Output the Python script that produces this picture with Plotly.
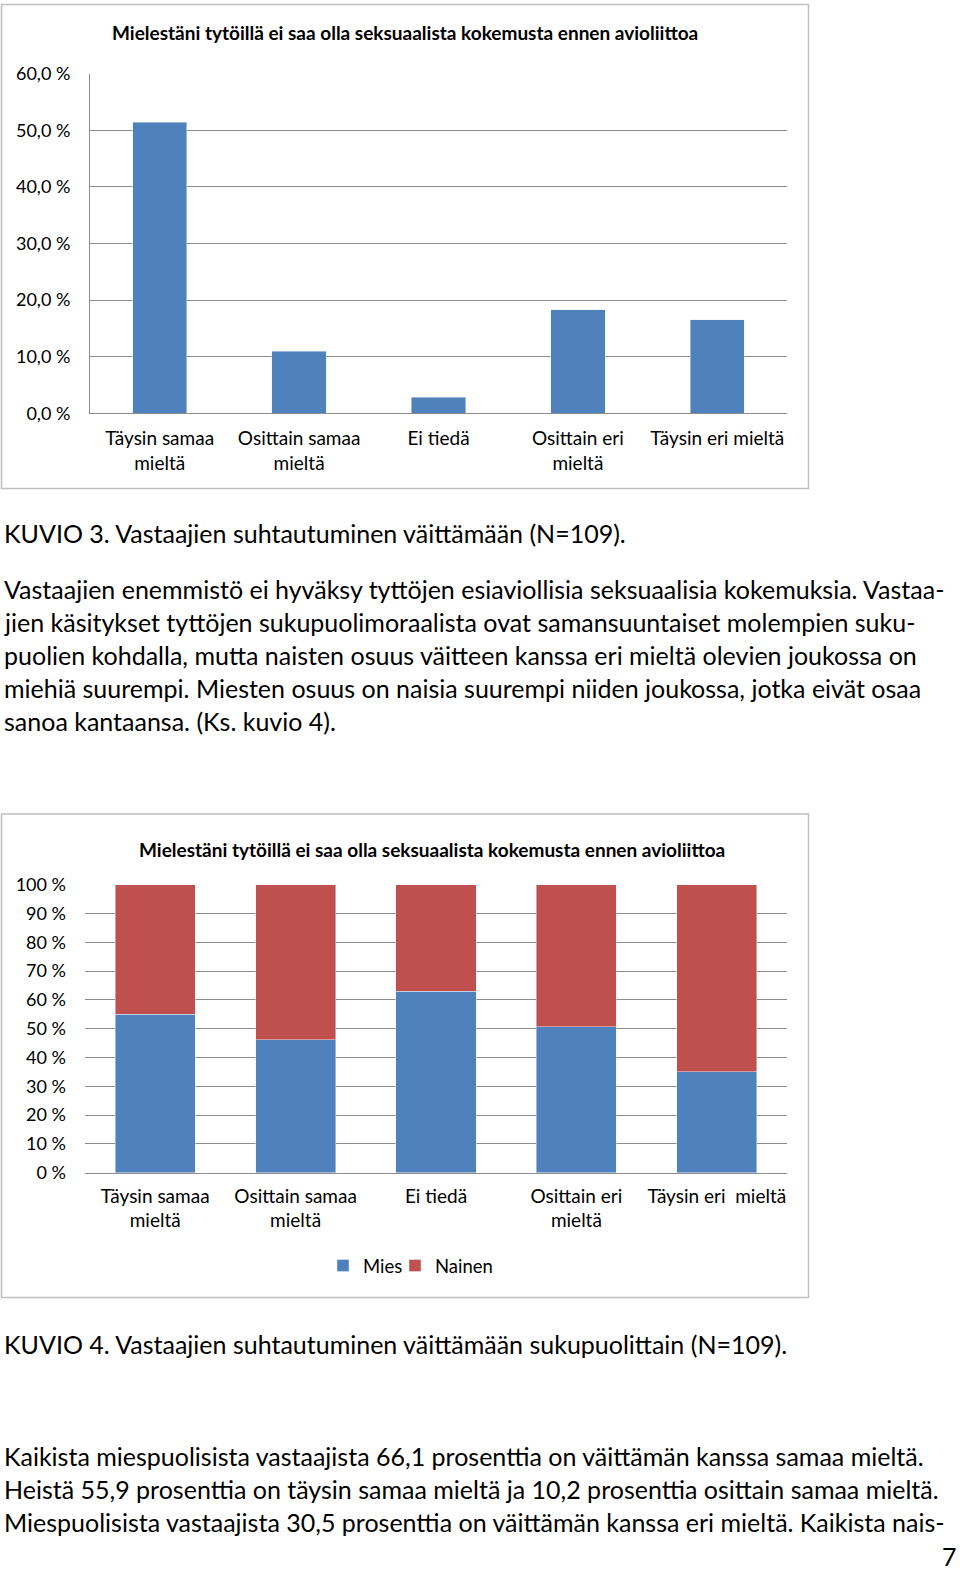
import plotly.graph_objects as go

W, H = 960, 1574

# ---------------- data ----------------
categories1 = ["Täysin samaa<br>mieltä", "Osittain samaa<br>mieltä", "Ei tiedä",
               "Osittain eri<br>mieltä", "Täysin eri mieltä"]
values1 = [51.4, 11.0, 2.8, 18.3, 16.5]
y1_tickvals = [0, 10, 20, 30, 40, 50, 60]
y1_ticktext = ["0,0 %", "10,0 %", "20,0 %", "30,0 %", "40,0 %", "50,0 %", "60,0 %"]

categories2 = ["Täysin samaa<br>mieltä", "Osittain samaa<br>mieltä", "Ei tiedä",
               "Osittain eri<br>mieltä", "Täysin eri  mieltä"]
mies = [55.0, 46.1, 63.0, 50.7, 35.0]
nainen = [45.0, 53.9, 37.0, 49.3, 65.0]
y2_tickvals = [0, 10, 20, 30, 40, 50, 60, 70, 80, 90, 100]
y2_ticktext = ["0 %", "10 %", "20 %", "30 %", "40 %", "50 %", "60 %", "70 %", "80 %", "90 %", "100 %"]

chart_title = "Mielestäni tytöillä ei saa olla seksuaalista kokemusta ennen avioliittoa"

caption3 = "KUVIO 3. Vastaajien suhtautuminen väittämään (N=109)."
para1 = [
    "Vastaajien enemmistö ei hyväksy tyttöjen esiaviollisia seksuaalisia kokemuksia. Vastaa-",
    "jien käsitykset tyttöjen sukupuolimoraalista ovat samansuuntaiset molempien suku-",
    "puolien kohdalla, mutta naisten osuus väitteen kanssa eri mieltä olevien joukossa on",
    "miehiä suurempi. Miesten osuus on naisia suurempi niiden joukossa, jotka eivät osaa",
    "sanoa kantaansa. (Ks. kuvio 4).",
]
caption4 = "KUVIO 4. Vastaajien suhtautuminen väittämään sukupuolittain (N=109)."
para2 = [
    "Kaikista miespuolisista vastaajista 66,1 prosenttia on väittämän kanssa samaa mieltä.",
    "Heistä 55,9 prosenttia on täysin samaa mieltä ja 10,2 prosenttia osittain samaa mieltä.",
    "Miespuolisista vastaajista 30,5 prosenttia on väittämän kanssa eri mieltä. Kaikista nais-",
]
page_no = "7"

BLUE = "#4F81BD"
RED = "#C0504D"
GRID = "#8C8C8C"
FONT = "Lato"


def fx(px):
    return px / W


def fy(py):
    return 1 - py / H


fig = go.Figure()

fig.add_trace(go.Bar(x=categories1, y=values1, marker_color=BLUE, width=0.39,
                     xaxis="x", yaxis="y", showlegend=False))
fig.add_trace(go.Bar(x=categories2, y=mies, name="Mies", marker_color=BLUE, width=0.57,
                     xaxis="x2", yaxis="y2", legend="legend"))
fig.add_trace(go.Bar(x=categories2, y=nainen, name="Nainen", marker_color=RED, width=0.57,
                     xaxis="x2", yaxis="y2", legend="legend2"))

ytickfont = dict(family=FONT, size=18, color="#000000")
xtickfont = dict(family=FONT, size=19, color="#000000")
legfont = dict(family=FONT, size=18.5, color="#000000")

fig.update_layout(
    width=W, height=H,
    autosize=False,
    margin=dict(l=0, r=0, t=0, b=0, pad=0, autoexpand=False),
    paper_bgcolor="white", plot_bgcolor="white",
    barmode="stack",
    font=dict(family=FONT, color="#000000"),
    xaxis=dict(domain=[fx(90), fx(787)], anchor="y", showgrid=False,
               showline=True, linecolor=GRID, linewidth=1, ticks="",
               tickfont=xtickfont, ticklabelstandoff=8, automargin=False),
    yaxis=dict(domain=[fy(413.3), fy(73.7)], anchor="x", range=[0, 60.02],
               tickvals=y1_tickvals, ticktext=y1_ticktext,
               showgrid=True, gridcolor=GRID, gridwidth=1,
               showline=True, linecolor=GRID, linewidth=1, ticks="",
               tickfont=ytickfont, ticklabelstandoff=15, zeroline=False, automargin=False),
    xaxis2=dict(domain=[fx(85), fx(787)], anchor="y2", showgrid=False,
                showline=True, linecolor=GRID, linewidth=1, ticks="",
                tickfont=xtickfont, ticklabelstandoff=6, automargin=False),
    yaxis2=dict(domain=[fy(1172.7), fy(884.7)], anchor="x2", range=[0, 100.02],
                tickvals=y2_tickvals, ticktext=y2_ticktext,
                showgrid=True, gridcolor=GRID, gridwidth=1,
                showline=False, ticks="",
                tickfont=ytickfont, ticklabelstandoff=18, zeroline=False, automargin=False),
    legend=dict(orientation="h", x=fx(323), y=fy(1266), xanchor="left", yanchor="middle",
                font=legfont, itemwidth=30, bgcolor="rgba(0,0,0,0)"),
    legend2=dict(orientation="h", x=fx(395), y=fy(1266), xanchor="left", yanchor="middle",
                 font=legfont, itemwidth=30, bgcolor="rgba(0,0,0,0)"),
)

# chart borders
fig.add_shape(type="rect", xref="paper", yref="paper",
              x0=fx(1.5), x1=fx(808.5), y0=fy(488.5), y1=fy(4.5),
              line=dict(color="#BFBFBF", width=1.5), layer="below")
fig.add_shape(type="rect", xref="paper", yref="paper",
              x0=fx(1.5), x1=fx(808.5), y0=fy(1297.5), y1=fy(814),
              line=dict(color="#BFBFBF", width=1.5), layer="below")

annotations = []
annotations.append(dict(text="<b>" + chart_title + "</b>", x=fx(405), y=fy(33),
                        xanchor="center", yanchor="middle",
                        font=dict(family=FONT, size=19)))
annotations.append(dict(text="<b>" + chart_title + "</b>", x=fx(432), y=fy(849),
                        xanchor="center", yanchor="middle",
                        font=dict(family=FONT, size=19)))

body_font = dict(family=FONT, size=25, color="#000000")
annotations.append(dict(text=caption3, x=fx(2), y=fy(533), xanchor="left", yanchor="middle",
                        font=body_font))
for i, line in enumerate(para1):
    annotations.append(dict(text=line, x=fx(2), y=fy(589 + 33.1 * i), xanchor="left",
                            yanchor="middle", font=body_font))
annotations.append(dict(text=caption4, x=fx(2), y=fy(1344), xanchor="left", yanchor="middle",
                        font=body_font))
for i, line in enumerate(para2):
    annotations.append(dict(text=line, x=fx(2), y=fy(1455.5 + 33.1 * i), xanchor="left",
                            yanchor="middle", font=body_font))
annotations.append(dict(text=page_no, x=fx(959), y=fy(1556), xanchor="right", yanchor="middle",
                        font=body_font))

for a in annotations:
    a.update(xref="paper", yref="paper", showarrow=False)
fig.update_layout(annotations=annotations)

post = """
document.documentElement.style.margin='0';
document.documentElement.style.padding='0';
document.body.style.margin='0';
document.body.style.padding='0';
document.body.style.overflow='hidden';
var gd = document.getElementById('{plot_id}');
gd.style.position='absolute';
gd.style.left='0px';
gd.style.top='0px';
"""

fig.write_html("out.html", config={"displayModeBar": False}, post_script=post)
